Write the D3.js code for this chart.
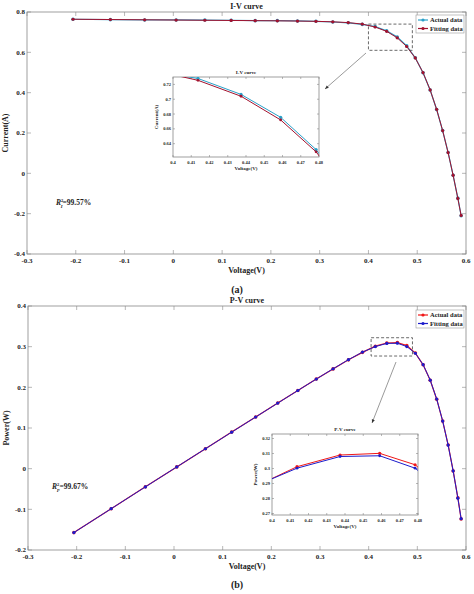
<!DOCTYPE html>
<html><head><meta charset="utf-8">
<script src="https://cdn.jsdelivr.net/npm/d3@7"></script>
<style>
body{margin:0;background:#fff}
text{font-family:"Liberation Serif",serif;font-weight:bold;fill:#222}
</style></head><body>
<svg id="vis" width="474" height="594"></svg>
<script>
// measured voltages (V)
var voltage = [-0.2057,-0.1291,-0.0588,0.0057,0.0646,0.1185,0.1678,0.2132,0.2545,0.2924,0.3269,0.3585,0.3873,0.4137,0.4373,0.4590,0.4784,0.4960,0.5119,0.5265,0.5398,0.5521,0.5633,0.5736,0.5833,0.5900];
var currentActual = [0.7640,0.7620,0.7605,0.7605,0.7600,0.7590,0.7570,0.7570,0.7555,0.7540,0.7505,0.7465,0.7385,0.7280,0.7065,0.6755,0.6320,0.5730,0.4990,0.4130,0.3165,0.2120,0.1035,-0.0100,-0.1230,-0.2100];
var currentFit = [0.7641,0.7627,0.7614,0.7601,0.7590,0.7580,0.7571,0.7562,0.7551,0.7537,0.7514,0.7474,0.7401,0.7255,0.7040,0.6720,0.6290,0.5721,0.4995,0.4135,0.3174,0.2121,0.1028,-0.0093,-0.1244,-0.2085];
var powerActual = [-0.1572,-0.0984,-0.0447,0.0043,0.0491,0.0899,0.1270,0.1614,0.1923,0.2205,0.2453,0.2676,0.2860,0.3012,0.3090,0.3101,0.3025,0.2842,0.2554,0.2174,0.1708,0.1170,0.0583,-0.0057,-0.0717,-0.1239];
var powerFit = [-0.1572,-0.0985,-0.0448,0.0043,0.0490,0.0898,0.1270,0.1612,0.1922,0.2204,0.2456,0.2680,0.2866,0.3002,0.3080,0.3085,0.3002,0.2838,0.2557,0.2177,0.1713,0.1171,0.0579,-0.0053,-0.0726,-0.1230];
var xTicks = [-0.3,-0.2,-0.1,0,0.1,0.2,0.3,0.4,0.5,0.6];
var ivTicks = [-0.4,-0.2,0,0.2,0.4,0.6,0.8];
var pvTicks = [-0.2,-0.1,0,0.1,0.2,0.3,0.4];
var insetX = [0.4,0.41,0.42,0.43,0.44,0.45,0.46,0.47,0.48];
var ivInsetY = [0.64,0.66,0.68,0.7,0.72];
var pvInsetY = [0.27,0.28,0.29,0.3,0.31,0.32];

var svg = d3.select("#vis");
var clipN = 0;

function fmt(d){ return String(+d.toFixed(3)); }

function panel(o) {
  var g = svg.append("g");
  var x = d3.scaleLinear().domain(o.xd).range([o.x0, o.x1]);
  var y = d3.scaleLinear().domain(o.yd).range([o.y1, o.y0]);
  var fs = o.fs;
  g.append("rect").attr("x",o.x0).attr("y",o.y0).attr("width",o.x1-o.x0).attr("height",o.y1-o.y0)
    .attr("fill","#fff").attr("stroke","#888").attr("stroke-width",0.8);
  var tl = o.tick;
  o.xt.forEach(function(t){
    var px = x(t);
    g.append("line").attr("x1",px).attr("x2",px).attr("y1",o.y1).attr("y2",o.y1-tl).attr("stroke","#888").attr("stroke-width",0.6);
    g.append("line").attr("x1",px).attr("x2",px).attr("y1",o.y0).attr("y2",o.y0+tl).attr("stroke","#888").attr("stroke-width",0.6);
    g.append("text").attr("x",px).attr("y",o.y1+fs+2).attr("text-anchor","middle").attr("font-size",fs).text(fmt(t));
  });
  o.yt.forEach(function(t){
    var py = y(t);
    g.append("line").attr("x1",o.x0).attr("x2",o.x0+tl).attr("y1",py).attr("y2",py).attr("stroke","#888").attr("stroke-width",0.6);
    g.append("line").attr("x1",o.x1).attr("x2",o.x1-tl).attr("y1",py).attr("y2",py).attr("stroke","#888").attr("stroke-width",0.6);
    g.append("text").attr("x",o.x0-2).attr("y",py+fs*0.35).attr("text-anchor","end").attr("font-size",fs).text(fmt(t));
  });
  g.append("text").attr("x",(o.x0+o.x1)/2).attr("y",o.y0-3).attr("text-anchor","middle").attr("font-size",o.tfs).text(o.title);
  g.append("text").attr("x",(o.x0+o.x1)/2).attr("y",o.y1+fs*2+o.lfs*0.4+2).attr("text-anchor","middle").attr("font-size",o.lfs).text("Voltage(V)");
  g.append("text").attr("transform","translate("+(o.ylx)+","+((o.y0+o.y1)/2)+") rotate(-90)")
    .attr("text-anchor","middle").attr("font-size",o.lfs).text(o.ylabel);
  var id = "clip" + (clipN++);
  svg.append("clipPath").attr("id",id).append("rect").attr("x",o.x0).attr("y",o.y0).attr("width",o.x1-o.x0).attr("height",o.y1-o.y0);
  var pg = g.append("g").attr("clip-path","url(#"+id+")");
  var line = d3.line().x(function(d,i){return x(voltage[i]);}).y(function(d){return y(d);});
  o.series.forEach(function(s){
    pg.append("path").datum(s.values).attr("d",line).attr("fill","none").attr("stroke",s.color).attr("stroke-width",s.w);
    pg.selectAll(null).data(s.values).enter().append("circle")
      .attr("cx",function(d,i){return x(voltage[i]);}).attr("cy",function(d){return y(d);})
      .attr("r",s.r).attr("fill",s.color);
  });
  return {x:x,y:y,g:g};
}

function legend(x0,y0,items){
  var g = svg.append("g");
  g.append("rect").attr("x",x0).attr("y",y0).attr("width",48).attr("height",18).attr("fill","#fff").attr("stroke","#999").attr("stroke-width",0.6);
  items.forEach(function(it,i){
    var yy = y0+5+i*8.5;
    g.append("line").attr("x1",x0+2).attr("x2",x0+12).attr("y1",yy).attr("y2",yy).attr("stroke",it.color).attr("stroke-width",1.2);
    g.append("circle").attr("cx",x0+7).attr("cy",yy).attr("r",1.6).attr("fill",it.color);
    g.append("text").attr("x",x0+14).attr("y",yy+2.3).attr("font-size",6.5).text(it.name);
  });
}

function zoomBox(m, x0,x1,y0,y1, ax,ay,bx,by){
  svg.append("rect").attr("x",m.x(x0)).attr("y",m.y(y1)).attr("width",m.x(x1)-m.x(x0)).attr("height",m.y(y0)-m.y(y1))
    .attr("fill","none").attr("stroke","#444").attr("stroke-width",0.8).attr("stroke-dasharray","3,2");
  svg.append("line").attr("x1",ax).attr("y1",ay).attr("x2",bx).attr("y2",by).attr("stroke","#555").attr("stroke-width",0.6);
  var a = Math.atan2(by-ay,bx-ax), L=4;
  svg.append("path").attr("d","M"+bx+","+by+"L"+(bx-L*Math.cos(a-0.4))+","+(by-L*Math.sin(a-0.4))+"L"+(bx-L*Math.cos(a+0.4))+","+(by-L*Math.sin(a+0.4))+"Z").attr("fill","#333");
}

function rsq(x, y, sub, val){
  var t = svg.append("text").attr("x",x).attr("y",y).attr("font-size",7.5);
  t.append("tspan").attr("font-style","italic").text("R");
  t.append("tspan").attr("font-size",4.5).attr("dy",-3).text("2");
  t.append("tspan").attr("font-size",4.5).attr("font-style","italic").attr("dx",-2.5).attr("dy",6).text(sub);
  t.append("tspan").attr("dy",-3).text("=" + val);
}

var cAct1 = "#2aa0c8", cFit1 = "#a3122e";
var cAct2 = "#f01818", cFit2 = "#1c1ccc";

var iv = panel({x0:27,x1:466,y0:12,y1:254,xd:[-0.3,0.6],yd:[-0.4,0.8],xt:xTicks,yt:ivTicks,fs:7,tfs:8,lfs:8,tick:4,
  title:"I-V curve",ylabel:"Current(A)",ylx:8,
  series:[{values:currentActual,color:cAct1,w:1.2,r:1.8},{values:currentFit,color:cFit1,w:1,r:1.6}]});
legend(416,15,[{name:"Actual data",color:cAct1},{name:"Fitting data",color:cFit1}]);
zoomBox(iv,0.4,0.49,0.61,0.74,366,53,325,89);
panel({x0:173,x1:319,y0:77,y1:157,xd:[0.4,0.48],yd:[0.622,0.73],xt:insetX,yt:ivInsetY,fs:4.5,tfs:5,lfs:5,tick:2,
  title:"I-V curve",ylabel:"Current(A)",ylx:158,
  series:[{values:currentActual,color:cAct1,w:1,r:1.6},{values:currentFit,color:cFit1,w:1,r:1.4}]});
rsq(56, 205, "I", "99.57%");
svg.append("text").attr("x",237).attr("y",293).attr("text-anchor","middle").attr("font-size",10).attr("font-weight","normal").text("(a)");

var pv = panel({x0:28,x1:466,y0:306,y1:550,xd:[-0.3,0.6],yd:[-0.2,0.4],xt:xTicks,yt:pvTicks,fs:7,tfs:8,lfs:8,tick:4,
  title:"P-V curve",ylabel:"Power(W)",ylx:9,
  series:[{values:powerActual,color:cAct2,w:1.2,r:1.8},{values:powerFit,color:cFit2,w:1,r:1.6}]});
legend(416,310,[{name:"Actual data",color:cAct2},{name:"Fitting data",color:cFit2}]);
zoomBox(pv,0.405,0.49,0.277,0.322,396,362,372,423);
panel({x0:272,x1:418,y0:434,y1:515,xd:[0.4,0.48],yd:[0.269,0.323],xt:insetX,yt:pvInsetY,fs:4.5,tfs:5,lfs:5,tick:2,
  title:"P-V curve",ylabel:"Power(W)",ylx:257,
  series:[{values:powerActual,color:cAct2,w:1,r:1.6},{values:powerFit,color:cFit2,w:1,r:1.4}]});
rsq(52, 489, "P", "99.67%");
svg.append("text").attr("x",237).attr("y",588).attr("text-anchor","middle").attr("font-size",10).attr("font-weight","normal").text("(b)");
</script>
</body></html>
